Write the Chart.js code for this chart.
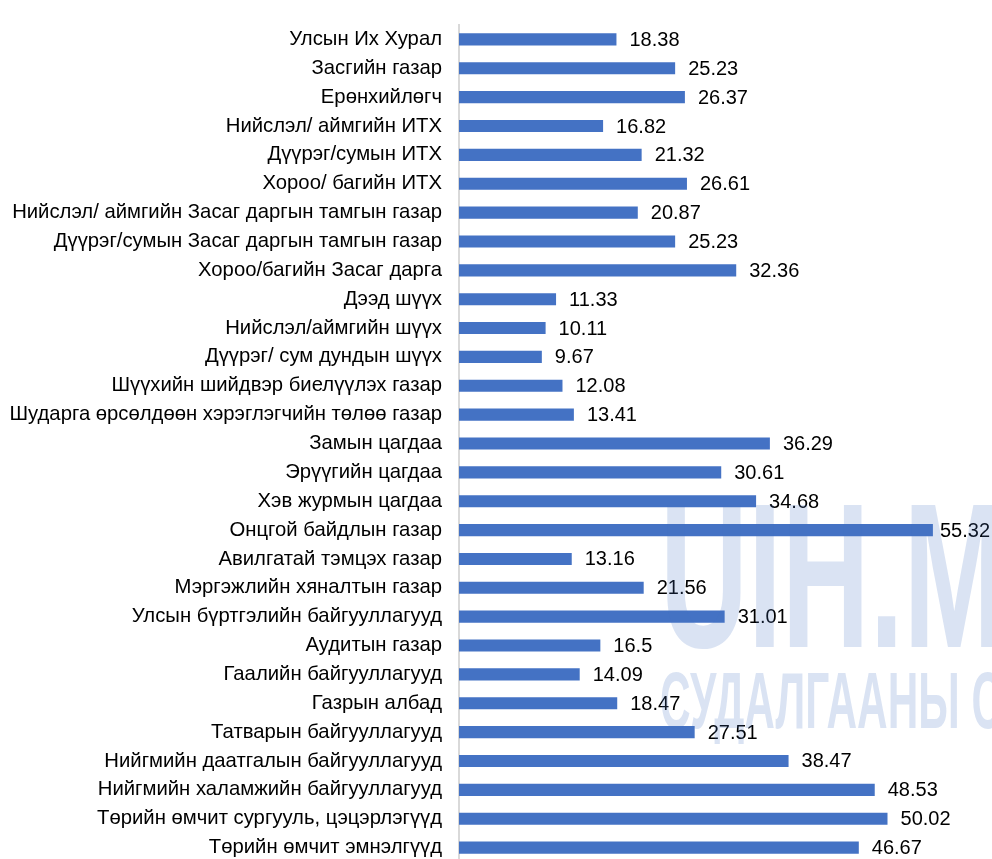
<!DOCTYPE html>
<html>
<head>
<meta charset="utf-8">
<script src="https://cdn.jsdelivr.net/npm/chart.js@4"></script>
<style>
  html, body { margin: 0; padding: 0; background: #fff; overflow: hidden; }
  canvas { display: block; }
</style>
</head>
<body>
<canvas id="chart" width="992" height="862"></canvas>
<script>
const categories = [
  "Улсын Их Хурал",
  "Засгийн газар",
  "Ерөнхийлөгч",
  "Нийслэл/ аймгийн ИТХ",
  "Дүүрэг/сумын ИТХ",
  "Хороо/ багийн ИТХ",
  "Нийслэл/ аймгийн Засаг даргын тамгын газар",
  "Дүүрэг/сумын Засаг даргын тамгын газар",
  "Хороо/багийн Засаг дарга",
  "Дээд шүүх",
  "Нийслэл/аймгийн шүүх",
  "Дүүрэг/ сум дундын шүүх",
  "Шүүхийн шийдвэр биелүүлэх газар",
  "Шударга өрсөлдөөн хэрэглэгчийн төлөө газар",
  "Замын цагдаа",
  "Эрүүгийн цагдаа",
  "Хэв журмын цагдаа",
  "Онцгой байдлын газар",
  "Авилгатай тэмцэх газар",
  "Мэргэжлийн хяналтын газар",
  "Улсын бүртгэлийн байгууллагууд",
  "Аудитын газар",
  "Гаалийн байгууллагууд",
  "Газрын албад",
  "Татварын байгууллагууд",
  "Нийгмийн даатгалын байгууллагууд",
  "Нийгмийн халамжийн байгууллагууд",
  "Төрийн өмчит сургууль, цэцэрлэгүүд",
  "Төрийн өмчит эмнэлгүүд"
];

const values = [
  18.38, 25.23, 26.37, 16.82, 21.32, 26.61, 20.87, 25.23, 32.36, 11.33,
  10.11, 9.67, 12.08, 13.41, 36.29, 30.61, 34.68, 55.32, 13.16, 21.56,
  31.01, 16.5, 14.09, 18.47, 27.51, 38.47, 48.53, 50.02, 46.67
];

const watermarkLines = ["UIH.MN", "СУДАЛГААНЫ С"];

const BLUE = "#4472C4";
const FONT = "'Liberation Sans', Arial, sans-serif";

// value labels at the end of each bar, kept inside the canvas
const valueLabels = {
  id: "valueLabels",
  afterDatasetsDraw(chart) {
    const ctx = chart.ctx;
    const meta = chart.getDatasetMeta(0);
    ctx.save();
    ctx.font = "20px " + FONT;
    ctx.fillStyle = "#000";
    ctx.textAlign = "left";
    ctx.textBaseline = "middle";
    meta.data.forEach((bar, i) => {
      const txt = String(values[i]);
      const tw = ctx.measureText(txt).width;
      const x = Math.min(bar.x + 13, chart.width - tw - 2);
      ctx.fillText(txt, x, bar.y + 1);
    });
    ctx.restore();
  }
};

// faint watermark on top of everything
const watermark = {
  id: "watermark",
  afterDraw(chart) {
    const ctx = chart.ctx;
    ctx.save();
    ctx.fillStyle = "rgba(68,114,196,0.2)";
    ctx.font = "bold 206px " + FONT;
    let w = ctx.measureText("UIH.M").width;
    ctx.translate(660, 647);
    ctx.scale(345 / w, 1);
    ctx.fillText(watermarkLines[0], 0, 0);
    ctx.restore();

    ctx.save();
    ctx.fillStyle = "rgba(68,114,196,0.2)";
    ctx.font = "bold 80px " + FONT;
    w = ctx.measureText(watermarkLines[1]).width;
    ctx.translate(660, 728);
    ctx.scale(342 / w, 1);
    ctx.fillText(watermarkLines[1], 0, 0);
    ctx.restore();
  }
};

new Chart(document.getElementById("chart"), {
  type: "bar",
  data: {
    labels: categories,
    datasets: [{
      data: values,
      backgroundColor: BLUE,
      borderWidth: 0,
      categoryPercentage: 1,
      barPercentage: 0.42
    }]
  },
  options: {
    indexAxis: "y",
    responsive: false,
    animation: false,
    layout: { padding: { top: 25, right: 19, left: 0, bottom: 0 } },
    plugins: {
      legend: { display: false },
      tooltip: { enabled: false }
    },
    scales: {
      x: {
        display: false,
        min: 0,
        max: 60
      },
      y: {
        grid: { display: false, drawTicks: false },
        border: { display: true, color: "#d9d9d9", width: 2 },
        ticks: {
          color: "#000",
          font: { family: FONT, size: 20.3 },
          padding: 17,
          autoSkip: false
        },
        afterFit(scale) {
          scale.width = 459;
          scale.paddingTop = 0;
          scale.paddingBottom = 0;
        }
      }
    }
  },
  plugins: [valueLabels, watermark]
});
</script>
</body>
</html>
